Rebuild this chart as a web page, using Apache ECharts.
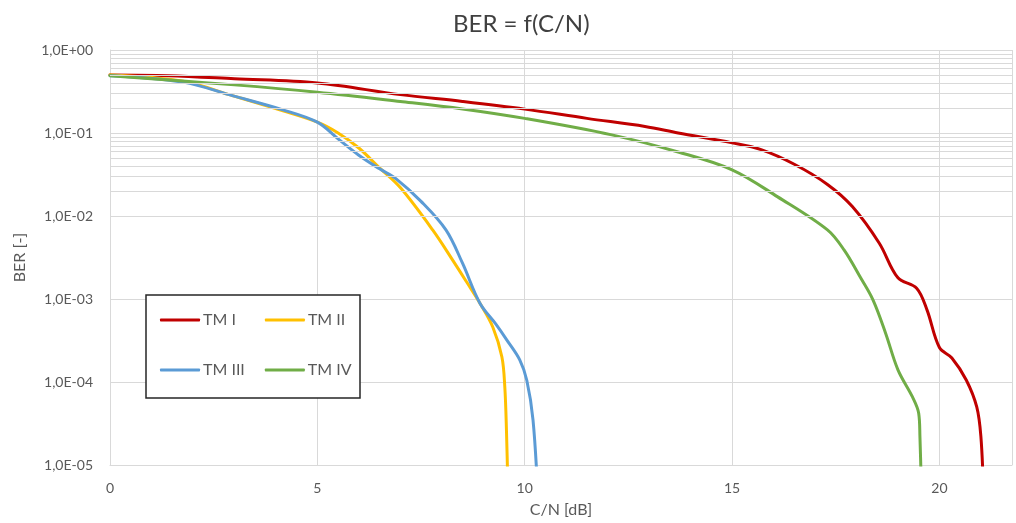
<!DOCTYPE html>
<html>
<head>
<meta charset="utf-8">
<script src="https://cdn.jsdelivr.net/npm/echarts@6/dist/echarts.min.js"></script>
<style>
  html, body { margin: 0; padding: 0; background: #fff; }
  #chart { width: 1016px; height: 523px; }
</style>
</head>
<body>
<div id="chart"></div>
<script>
// Bit error rate versus carrier-to-noise ratio for four transmission modes
const seriesNames = ['TM I', 'TM II', 'TM III', 'TM IV'];
const seriesColors = ['#C00000', '#FFC000', '#5B9BD5', '#70AD47'];

// [C/N in dB, BER]
const tm1 = [
  [0, 0.50], [1.4, 0.49], [3.0, 0.45], [5.0, 0.40], [7.0, 0.29], [8.5, 0.24],
  [10.0, 0.194], [11.5, 0.15], [12.9, 0.12], [13.7, 0.10], [15.0, 0.076],
  [15.7, 0.063], [16.5, 0.042], [17.3, 0.024], [17.9, 0.013], [18.55, 0.0047],
  [19.0, 0.0018], [19.45, 0.00135], [19.7, 0.00074], [20.0, 0.00026],
  [20.3, 0.000195], [20.65, 0.000105], [20.9, 0.00005], [21.0, 0.000022],
  [21.06, 0.000005]
];
const tm2 = [
  [0, 0.50], [1.76, 0.42], [2.97, 0.28], [4.17, 0.185], [5.0, 0.135],
  [5.5, 0.10], [6.0, 0.066], [6.5, 0.038], [7.0, 0.022], [7.78, 0.0068],
  [8.27, 0.0029], [8.6, 0.0016], [8.92, 0.00089], [9.23, 0.00046],
  [9.45, 0.0002], [9.52, 0.000087], [9.56, 0.000026], [9.6, 0.000004]
];
const tm3 = [
  [0, 0.49], [1.76, 0.41], [2.97, 0.28], [4.17, 0.19], [5.0, 0.135],
  [5.5, 0.085], [6.0, 0.054], [6.5, 0.037], [6.9, 0.028], [7.5, 0.015],
  [8.1, 0.0068], [8.5, 0.0027], [8.92, 0.00089], [9.3, 0.0005],
  [9.57, 0.00032], [9.88, 0.000185], [10.05, 0.000105], [10.2, 0.000035],
  [10.32, 0.000004]
];
const tm4 = [
  [0, 0.49], [3.0, 0.38], [5.0, 0.31], [7.0, 0.24], [8.5, 0.195],
  [10.0, 0.15], [12.1, 0.095], [13.7, 0.059], [15.0, 0.036], [16.1, 0.017],
  [17.3, 0.0068], [17.7, 0.0039], [18.1, 0.0018], [18.4, 0.00097],
  [18.7, 0.00039], [19.0, 0.00014], [19.35, 0.000066], [19.5, 0.000042],
  [19.53, 0.000022], [19.57, 0.000004]
];
const seriesData = [tm1, tm2, tm3, tm4];

// Axis ticks
const xTicks = [0, 5, 10, 15, 20];
const decades = [1e-5, 1e-4, 1e-3, 1e-2, 1e-1, 1];
const minorSteps = [2, 3, 4, 5, 6, 7, 8, 9];

const minorGrid = [];
for (let i = 0; i < decades.length - 1; i++) {
  for (const m of minorSteps) minorGrid.push(+(decades[i] * m).toPrecision(3));
}

function sciLabel(v) {
  const e = Math.round(Math.log10(v));
  const sign = e < 0 ? '-' : '+';
  const a = Math.abs(e);
  return '1,0E' + sign + (a < 10 ? '0' : '') + a;
}

const FONT = 'Lato, "Open Sans", sans-serif';
const TXT = '#595959';
const GRID = '#d9d9d9';

const chart = echarts.init(document.getElementById('chart'), null, { renderer: 'canvas' });

const series = seriesNames.map((name, i) => ({
  name,
  type: 'line',
  data: seriesData[i],
  smooth: 0.35,
  showSymbol: false,
  symbol: 'none',
  clip: true,
  z: 3,
  lineStyle: { color: seriesColors[i], width: 3, cap: 'round', join: 'round' },
  itemStyle: { color: seriesColors[i] }
}));

// Gridlines at 2..9 within each decade
series.push({
  name: 'minor-grid',
  type: 'line',
  data: [],
  silent: true,
  z: 1,
  markLine: {
    silent: true,
    symbol: 'none',
    label: { show: false },
    animation: false,
    lineStyle: { color: GRID, width: 1, type: 'solid' },
    data: minorGrid.map(v => ({ yAxis: v }))
  }
});

const legendCommon = {
  orient: 'horizontal',
  itemWidth: 40,
  itemHeight: 3,
  padding: 0,
  icon: 'roundRect',
  z: 10,
  selectedMode: false,
  textStyle: { color: TXT, fontSize: 16, fontFamily: FONT, padding: [0, 0, 0, -2] }
};

chart.setOption({
  animation: false,
  backgroundColor: '#ffffff',
  title: {
    text: 'BER = f(C/N)',
    left: 448,
    top: 7,
    textStyle: { color: '#404040', fontSize: 24, fontWeight: 'normal', fontFamily: FONT }
  },
  grid: { left: 110, right: 4, top: 50, bottom: 58, containLabel: false },
  xAxis: {
    type: 'value',
    min: 0,
    max: 21.75,
    interval: 5,
    name: 'C/N [dB]',
    nameLocation: 'middle',
    nameGap: 37,
    nameTextStyle: { color: TXT, fontSize: 16, fontFamily: FONT },
    axisLine: { show: true, lineStyle: { color: GRID, width: 1 } },
    axisTick: { show: false },
    axisLabel: {
      color: TXT, fontSize: 14, fontFamily: FONT, margin: 16,
      showMaxLabel: false,
      formatter: v => (xTicks.indexOf(v) >= 0 ? String(v) : '')
    },
    splitLine: { show: true, lineStyle: { color: GRID, width: 1 } }
  },
  yAxis: {
    type: 'log',
    logBase: 10,
    min: 1e-5,
    max: 1,
    name: 'BER [-]',
    nameLocation: 'middle',
    nameGap: 82,
    nameRotate: 90,
    nameTextStyle: { color: TXT, fontSize: 16, fontFamily: FONT },
    axisLine: { show: true, lineStyle: { color: GRID, width: 1 } },
    axisTick: { show: false },
    axisLabel: { color: TXT, fontSize: 14, fontFamily: FONT, margin: 17, formatter: sciLabel },
    splitLine: { show: true, lineStyle: { color: GRID, width: 1 } }
  },
  legend: [
    Object.assign({}, legendCommon, { data: ['TM I', 'TM II'], left: 160, top: 312, itemGap: 29 }),
    Object.assign({}, legendCommon, { data: ['TM III', 'TM IV'], left: 160, top: 362, itemGap: 20 })
  ],
  graphic: [{
    type: 'rect',
    z: 5,
    silent: true,
    shape: { x: 146, y: 295, width: 214, height: 103 },
    style: { fill: '#ffffff', stroke: '#262626', lineWidth: 1.5 }
  }],
  series
});
</script>
</body>
</html>
